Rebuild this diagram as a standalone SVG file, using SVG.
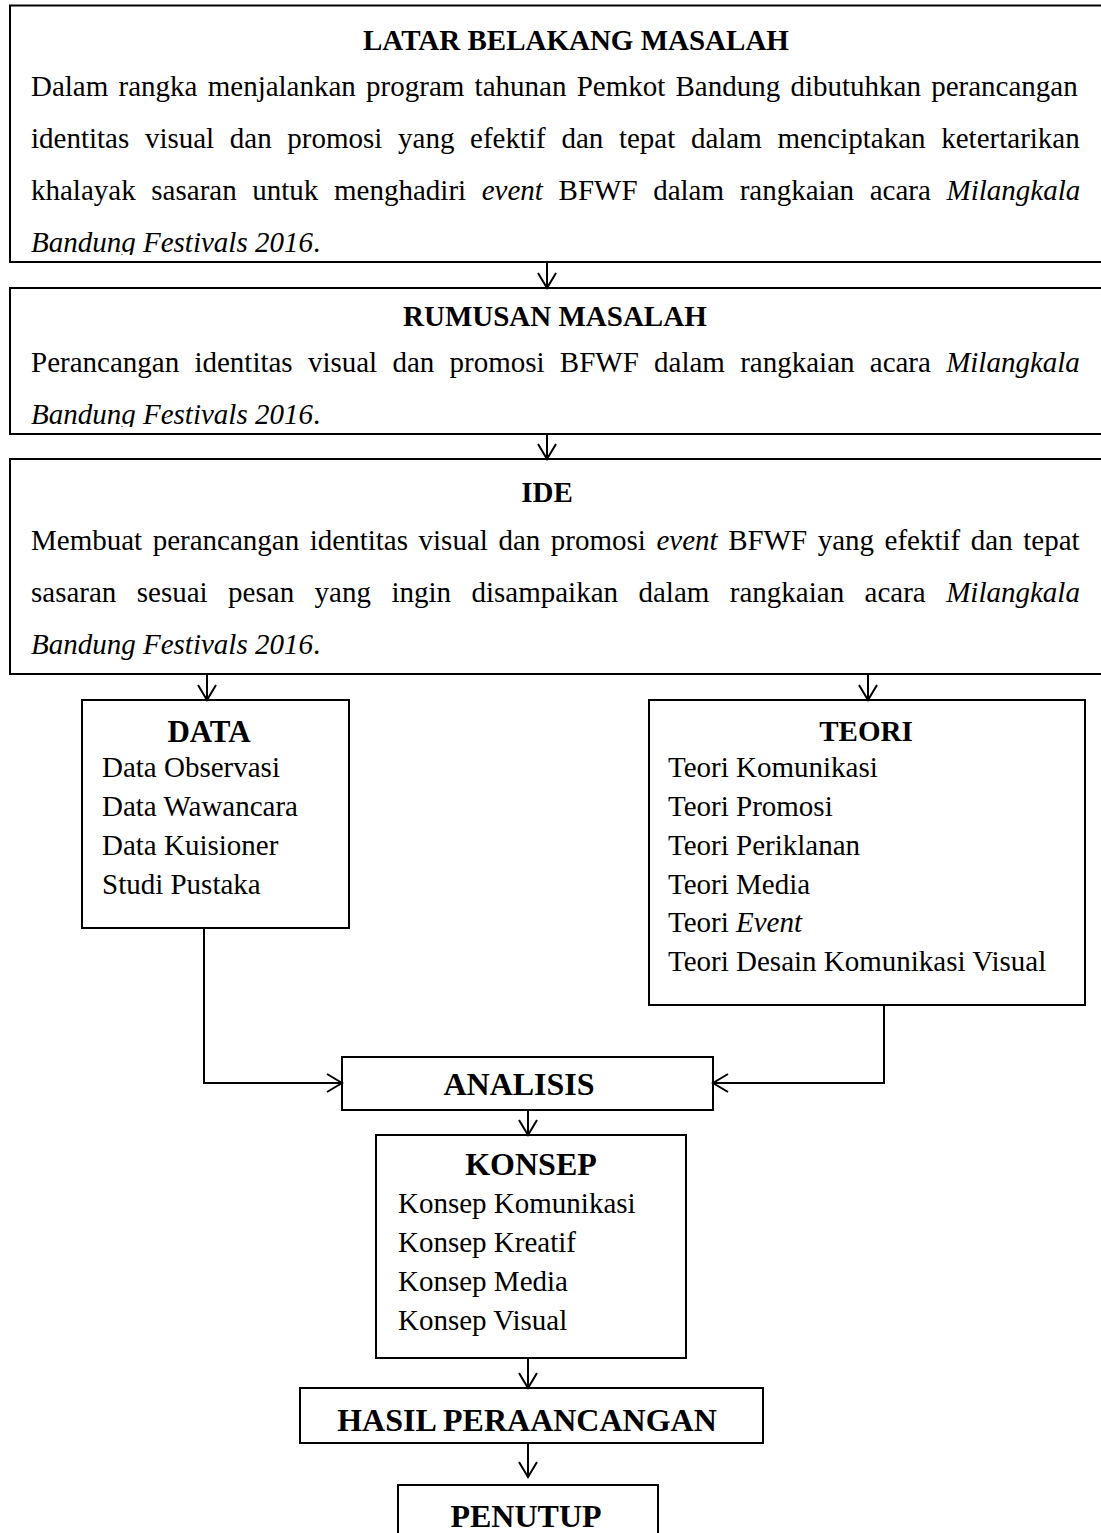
<svg xmlns="http://www.w3.org/2000/svg" width="1101" height="1533" viewBox="0 0 1101 1533">
<style>
  .box { fill: #fff; stroke: #000; stroke-width: 2; }
  .t { font-family: "Liberation Serif", "Times New Roman", serif; font-size: 29px; fill: #000; }
  .b { font-weight: bold; }
  .i { font-style: italic; }
  .c { text-anchor: middle; }
  .big { font-size: 32px; }
  .conn { fill: none; stroke: #000; stroke-width: 2; }
</style>
<defs>
  <marker id="arr" markerWidth="22" markerHeight="22" refX="16" refY="10" orient="auto" markerUnits="userSpaceOnUse">
    <path d="M1,1 L16,10 L1,19" fill="none" stroke="#000" stroke-width="2"/>
  </marker>
  <clipPath id="clip1"><rect x="0" y="0" width="1101" height="255"/></clipPath>
  <clipPath id="clip2"><rect x="0" y="290" width="1101" height="137"/></clipPath>
</defs>
<rect x="0" y="0" width="1101" height="1533" fill="#fff"/>

<g id="latar">
  <rect class="box" x="10" y="5.5" width="1100" height="256.5"/>
  <text class="t b" x="363" y="50">LATAR BELAKANG MASALAH</text>
  <text class="t" x="31" y="96" word-spacing="3.0">Dalam rangka menjalankan program tahunan Pemkot Bandung dibutuhkan perancangan</text>
  <text class="t" x="31" y="148" word-spacing="8.4">identitas visual dan promosi yang efektif dan tepat dalam menciptakan ketertarikan</text>
  <text class="t" x="31" y="200" word-spacing="8.4">khalayak sasaran untuk menghadiri <tspan class="i">event</tspan> BFWF dalam rangkaian acara <tspan class="i">Milangkala</tspan></text>
  <text class="t" x="31" y="252" clip-path="url(#clip1)"><tspan class="i">Bandung Festivals 2016</tspan>.</text>
</g>

<g id="rumusan">
  <rect class="box" x="10" y="288" width="1100" height="146"/>
  <text class="t b" x="403" y="326">RUMUSAN MASALAH</text>
  <text class="t" x="31" y="372" word-spacing="8.0">Perancangan identitas visual dan promosi BFWF dalam rangkaian acara <tspan class="i">Milangkala</tspan></text>
  <text class="t" x="31" y="424" clip-path="url(#clip2)"><tspan class="i">Bandung Festivals 2016</tspan>.</text>
</g>

<g id="ide">
  <rect class="box" x="10" y="459" width="1100" height="215"/>
  <text class="t b c" x="547" y="502">IDE</text>
  <text class="t" x="31" y="550" word-spacing="3.3">Membuat perancangan identitas visual dan promosi <tspan class="i">event</tspan> BFWF yang efektif dan tepat</text>
  <text class="t" x="31" y="602" word-spacing="13.2">sasaran sesuai pesan yang ingin disampaikan dalam rangkaian acara <tspan class="i">Milangkala</tspan></text>
  <text class="t" x="31" y="654"><tspan class="i">Bandung Festivals 2016</tspan>.</text>
</g>

<g id="data">
  <rect class="box" x="82" y="700" width="267" height="228"/>
  <text class="t b c" x="209" y="742" style="font-size:31px">DATA</text>
  <text class="t" x="102" y="777">Data Observasi</text>
  <text class="t" x="102" y="816">Data Wawancara</text>
  <text class="t" x="102" y="855">Data Kuisioner</text>
  <text class="t" x="102" y="894">Studi Pustaka</text>
</g>

<g id="teori">
  <rect class="box" x="649" y="700" width="436" height="305"/>
  <text class="t b c" x="866" y="741">TEORI</text>
  <text class="t" x="668" y="777">Teori Komunikasi</text>
  <text class="t" x="668" y="816">Teori Promosi</text>
  <text class="t" x="668" y="855">Teori Periklanan</text>
  <text class="t" x="668" y="894">Teori Media</text>
  <text class="t" x="668" y="932">Teori <tspan class="i">Event</tspan></text>
  <text class="t" x="668" y="971">Teori Desain Komunikasi Visual</text>
</g>

<g id="analisis">
  <rect class="box" x="342" y="1057" width="371" height="53"/>
  <text class="t b c big" x="519" y="1095">ANALISIS</text>
</g>

<g id="konsep">
  <rect class="box" x="376" y="1135" width="310" height="223"/>
  <text class="t b c big" x="531" y="1175">KONSEP</text>
  <text class="t" x="398" y="1213">Konsep Komunikasi</text>
  <text class="t" x="398" y="1252">Konsep Kreatif</text>
  <text class="t" x="398" y="1291">Konsep Media</text>
  <text class="t" x="398" y="1330">Konsep Visual</text>
</g>

<g id="hasil">
  <rect class="box" x="300" y="1388" width="463" height="55"/>
  <text class="t b c big" x="527" y="1431">HASIL PERAANCANGAN</text>
</g>

<g id="penutup">
  <rect class="box" x="398" y="1485" width="260" height="60"/>
  <text class="t b c big" x="526" y="1527">PENUTUP</text>
</g>

<g id="connectors">
  <path class="conn" d="M547,262 V288" marker-end="url(#arr)"/>
  <path class="conn" d="M547,434 V459" marker-end="url(#arr)"/>
  <path class="conn" d="M207,674 V700" marker-end="url(#arr)"/>
  <path class="conn" d="M868,674 V700" marker-end="url(#arr)"/>
  <path class="conn" d="M204,928 V1083 H342" marker-end="url(#arr)"/>
  <path class="conn" d="M884,1005 V1083 H713" marker-end="url(#arr)"/>
  <path class="conn" d="M528,1110 V1135" marker-end="url(#arr)"/>
  <path class="conn" d="M528,1358 V1388" marker-end="url(#arr)"/>
  <path class="conn" d="M528,1443 V1477" marker-end="url(#arr)"/>
</g>
</svg>
